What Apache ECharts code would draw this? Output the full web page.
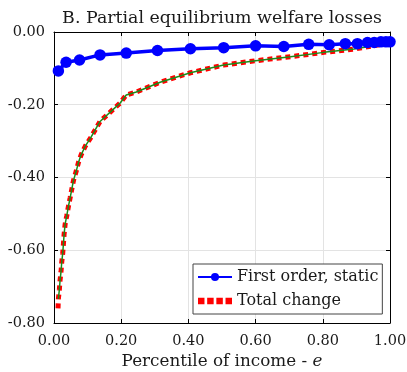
<!DOCTYPE html>
<html><head><meta charset="utf-8">
<script src="https://cdn.jsdelivr.net/npm/echarts@6/dist/echarts.min.js"></script>
<style>html,body{margin:0;padding:0;background:#fff}#c{width:407px;height:372px}</style>
</head><body><div id="c"></div><script>
// First order, static
const firstX = [0.013, 0.036, 0.076, 0.137, 0.215, 0.308, 0.406, 0.505, 0.600, 0.684, 0.758, 0.819, 0.867, 0.903, 0.933, 0.953, 0.973, 0.988, 1.000];
const firstY = [-0.107, -0.083, -0.077, -0.063, -0.058, -0.051, -0.046, -0.043, -0.038, -0.040, -0.034, -0.035, -0.032, -0.032, -0.029, -0.029, -0.027, -0.027, -0.027];
// Total change
const totalX = [0.012, 0.013, 0.016, 0.018, 0.021, 0.023, 0.026, 0.028, 0.030, 0.033, 0.038, 0.043, 0.048, 0.053, 0.058, 0.066, 0.073, 0.081, 0.093, 0.109, 0.137, 0.177, 0.197, 0.215, 0.245, 0.316, 0.406, 0.505, 0.600, 0.704, 0.803, 0.893, 1.000];
const totalY = [-0.760, -0.734, -0.708, -0.683, -0.658, -0.633, -0.608, -0.583, -0.557, -0.529, -0.505, -0.479, -0.456, -0.432, -0.408, -0.383, -0.358, -0.337, -0.314, -0.291, -0.246, -0.212, -0.195, -0.173, -0.165, -0.138, -0.112, -0.091, -0.079, -0.068, -0.056, -0.047, -0.030];
const xTicks = [0, 0.2, 0.4, 0.6, 0.8, 1.0];
const yTicks = [-0.8, -0.6, -0.4, -0.2, 0];
const titleText = 'B. Partial equilibrium welfare losses';
const legendNames = ['First order, static', 'Total change'];

const FONT = 'DejaVu Serif';
const TXT = '#1a1a1a';
const pairs = (xs, ys) => xs.map((x, i) => [x, ys[i]]);
const chart = echarts.init(document.getElementById('c'), null, {renderer: 'canvas'});
const axisCommon = {
  type: 'value',
  axisLine: {show: true, onZero: false, lineStyle: {color: '#000', width: 1}},
  axisTick: {show: true, inside: true, length: 4, lineStyle: {color: '#000'}},
};
chart.setOption({
  animation: false,
  backgroundColor: '#fff',
  textStyle: {fontFamily: FONT},
  title: {text: titleText, left: 217, textAlign: 'center', top: 5,
    textStyle: {fontFamily: FONT, fontWeight: 'normal', fontSize: 17.4, color: TXT}},
  grid: {left: 54, right: 17, top: 32, bottom: 49, containLabel: false, outerBoundsMode: 'none'},
  legend: {
    data: [
      {name: legendNames[0]},
      {name: legendNames[1], icon: 'path://M0,0h6v6h-6z M8.5,0h6v6h-6z M17,0h6v6h-6z M25.5,0h6v6h-6z'}
    ],
    orient: 'vertical', left: 193, top: 264,
    backgroundColor: '#fff', borderColor: '#444', borderWidth: 1, borderRadius: 0,
    padding: [5, 4, 5, 4], itemGap: 8, itemWidth: 34, itemHeight: 10, itemTextGap: 3,
    textStyle: {fontFamily: FONT, fontSize: 16, color: TXT}
  },
  xAxis: [
    Object.assign({}, axisCommon, {min: 0, max: 1, interval: 0.2, position: 'bottom',
      axisLabel: {fontFamily: FONT, fontSize: 14.5, color: TXT, margin: 11,
        formatter: v => xTicks.some(t => Math.abs(t - v) < 1e-9) ? v.toFixed(2) : ''},
      splitLine: {show: true, lineStyle: {color: '#e3e3e3', width: 1}},
      name: '{a|Percentile of income - }{b|e}', nameLocation: 'middle', nameGap: 30, nameMoveOverlap: false,
      nameTextStyle: {rich: {
        a: {fontFamily: FONT, fontSize: 16.8, color: TXT},
        b: {fontFamily: FONT, fontSize: 16.8, color: TXT, fontStyle: 'italic'}}}
    }),
    Object.assign({}, axisCommon, {min: 0, max: 1, interval: 0.2, position: 'top',
      axisLabel: {show: false}, splitLine: {show: false}})
  ],
  yAxis: [
    Object.assign({}, axisCommon, {min: -0.8, max: 0, interval: 0.2, position: 'left',
      axisLabel: {fontFamily: FONT, fontSize: 14.5, color: TXT, margin: 9,
        formatter: v => yTicks.some(t => Math.abs(t - v) < 1e-9) ? (Math.abs(v) < 1e-9 ? '0.00' : v.toFixed(2)) : ''},
      splitLine: {show: true, lineStyle: {color: '#e3e3e3', width: 1}}}),
    Object.assign({}, axisCommon, {min: -0.8, max: 0, interval: 0.2, position: 'right',
      axisLabel: {show: false}, splitLine: {show: false}})
  ],
  series: [
    {name: 'Total change', type: 'line', data: pairs(totalX, totalY), showSymbol: false, symbol: 'none',
      z: 2, lineStyle: {color: '#ff0000', width: 5, type: [5, 4], cap: 'butt'}, itemStyle: {color: '#ff0000'}},
    {name: 'Total change (line)', type: 'line', data: pairs(totalX.slice(1), totalY.slice(1)), showSymbol: false, symbol: 'none',
      z: 3, lineStyle: {color: '#1a8c1a', width: 1.5}, itemStyle: {color: '#1a8c1a'}},
    {name: 'First order, static', type: 'line', data: pairs(firstX, firstY), symbol: 'circle', symbolSize: 11.5,
      z: 4, lineStyle: {color: '#0000ff', width: 3.5}, itemStyle: {color: '#0000ff'}}
  ]
});
</script></body></html>
